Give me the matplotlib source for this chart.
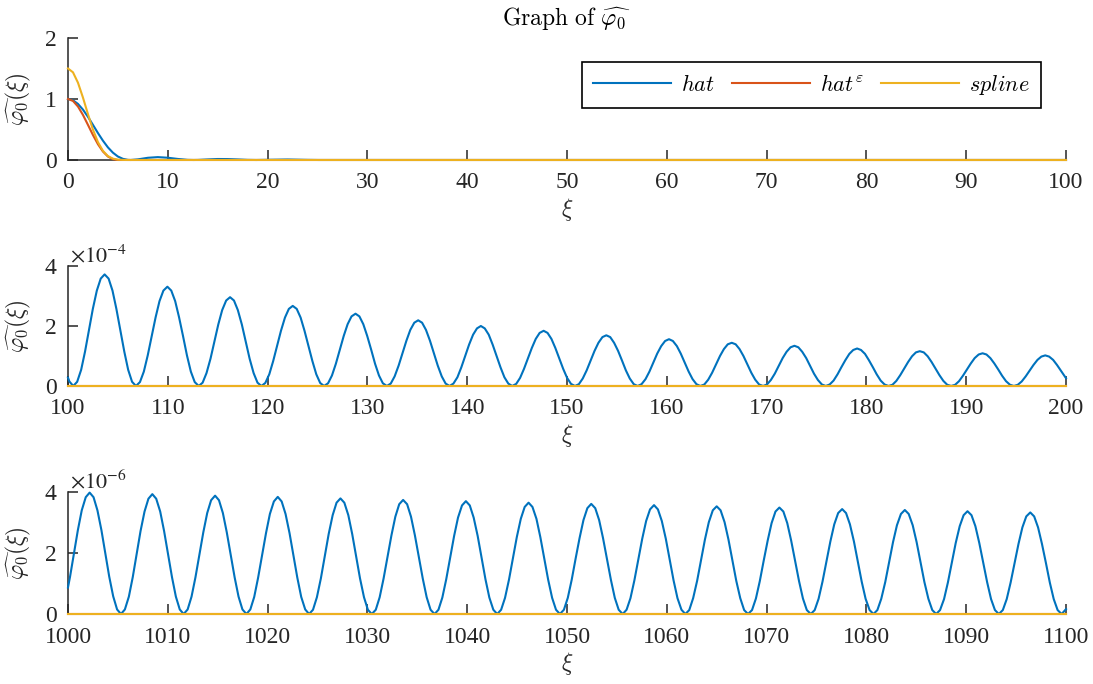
import matplotlib.pyplot as plt

plt.rcParams['font.family'] = 'Liberation Serif'
plt.rcParams['mathtext.fontset'] = 'cm'

# --- panel 1: xi in [0, 100] ---
x_top_hat = [0, 0.5, 1, 1.5, 2, 2.5, 3, 3.5, 4, 4.5, 5, 5.5, 6, 6.28,
             7, 8, 9, 10, 11, 12, 12.57, 13, 14, 15, 16, 17, 18, 18.85,
             20, 22, 24, 25.13, 100]
y_top_hat = [1, 0.979, 0.919, 0.826, 0.708, 0.576, 0.442, 0.317, 0.207, 0.120, 0.057, 0.019, 0.002, 0,
             0.010, 0.036, 0.047, 0.037, 0.017, 0.002, 0, 0.001, 0.009, 0.016, 0.015, 0.009, 0.002, 0,
             0.003, 0.008, 0.002, 0, 0]
x_top_hateps = [0, 0.5, 1, 1.5, 2, 2.5, 3, 3.5, 4, 4.5, 5, 100]
y_top_hateps = [1, 0.968, 0.876, 0.739, 0.576, 0.410, 0.259, 0.139, 0.057, 0.013, 0, 0]
x_top_spline = [0, 0.5, 1, 1.5, 2, 2.5, 3, 3.5, 4, 4.5, 5, 5.5, 6, 100]
y_top_spline = [1.5, 1.437, 1.267, 1.023, 0.752, 0.498, 0.293, 0.150, 0.064, 0.022, 0.005, 0.001, 0, 0]

# --- panel 2: xi in [100, 200], values in units of 1e-4 ---
x_mid_hat = [
    100.00, 100.14,
    100.53, 100.92, 101.32, 101.71, 102.10, 102.49, 102.89, 103.28, 103.67, 104.07, 104.46, 104.85, 105.24, 105.64, 106.03, 106.42,
    106.81, 107.21, 107.60, 107.99, 108.39, 108.78, 109.17, 109.56, 109.96, 110.35, 110.74, 111.13, 111.53, 111.92, 112.31, 112.70,
    113.10, 113.49, 113.88, 114.28, 114.67, 115.06, 115.45, 115.85, 116.24, 116.63, 117.02, 117.42, 117.81, 118.20, 118.60, 118.99,
    119.38, 119.77, 120.17, 120.56, 120.95, 121.34, 121.74, 122.13, 122.52, 122.92, 123.31, 123.70, 124.09, 124.49, 124.88, 125.27,
    125.66, 126.06, 126.45, 126.84, 127.24, 127.63, 128.02, 128.41, 128.81, 129.20, 129.59, 129.98, 130.38, 130.77, 131.16, 131.55,
    131.95, 132.34, 132.73, 133.13, 133.52, 133.91, 134.30, 134.70, 135.09, 135.48, 135.87, 136.27, 136.66, 137.05, 137.45, 137.84,
    138.23, 138.62, 139.02, 139.41, 139.80, 140.19, 140.59, 140.98, 141.37, 141.76, 142.16, 142.55, 142.94, 143.34, 143.73, 144.12,
    144.51, 144.91, 145.30, 145.69, 146.08, 146.48, 146.87, 147.26, 147.66, 148.05, 148.44, 148.83, 149.23, 149.62, 150.01, 150.40,
    150.80, 151.19, 151.58, 151.97, 152.37, 152.76, 153.15, 153.55, 153.94, 154.33, 154.72, 155.12, 155.51, 155.90, 156.29, 156.69,
    157.08, 157.47, 157.87, 158.26, 158.65, 159.04, 159.44, 159.83, 160.22, 160.61, 161.01, 161.40, 161.79, 162.19, 162.58, 162.97,
    163.36, 163.76, 164.15, 164.54, 164.93, 165.33, 165.72, 166.11, 166.51, 166.90, 167.29, 167.68, 168.08, 168.47, 168.86, 169.25,
    169.65, 170.04, 170.43, 170.82, 171.22, 171.61, 172.00, 172.40, 172.79, 173.18, 173.57, 173.97, 174.36, 174.75, 175.14, 175.54,
    175.93, 176.32, 176.71, 177.11, 177.50, 177.89, 178.29, 178.68, 179.07, 179.46, 179.86, 180.25, 180.64, 181.03, 181.43, 181.82,
    182.21, 182.61, 183.00, 183.39, 183.78, 184.18, 184.57, 184.96, 185.35, 185.75, 186.14, 186.53, 186.92, 187.32, 187.71, 188.10,
    188.50, 188.89, 189.28, 189.67, 190.07, 190.46, 190.85, 191.25, 191.64, 192.03, 192.42, 192.82, 193.21, 193.60, 193.99, 194.39,
    194.78, 195.17, 195.56, 195.96, 196.35, 196.74, 197.14, 197.53, 197.92, 198.31, 198.71, 199.10, 199.49, 199.88, 200.00,
]
y_mid_hat = [
    0.28, 0.15,
    0, 0.14, 0.54, 1.15, 1.86, 2.57, 3.18, 3.58, 3.72, 3.58, 3.18, 2.57, 1.86, 1.15, 0.54, 0.14,
    0, 0.13, 0.48, 1.02, 1.66, 2.29, 2.83, 3.18, 3.31, 3.18, 2.83, 2.29, 1.66, 1.02, 0.48, 0.13,
    0, 0.11, 0.43, 0.91, 1.48, 2.05, 2.53, 2.85, 2.96, 2.85, 2.53, 2.05, 1.48, 0.91, 0.43, 0.11,
    0, 0.10, 0.39, 0.83, 1.34, 1.84, 2.28, 2.57, 2.67, 2.57, 2.28, 1.84, 1.34, 0.83, 0.39, 0.10,
    0, 0.09, 0.35, 0.74, 1.21, 1.67, 2.06, 2.32, 2.41, 2.32, 2.06, 1.67, 1.21, 0.74, 0.35, 0.09,
    0, 0.08, 0.32, 0.68, 1.10, 1.51, 1.87, 2.11, 2.19, 2.11, 1.87, 1.51, 1.10, 0.68, 0.32, 0.08,
    0, 0.08, 0.29, 0.62, 1.00, 1.38, 1.71, 1.92, 2.00, 1.92, 1.71, 1.38, 1.00, 0.62, 0.29, 0.08,
    0, 0.07, 0.27, 0.57, 0.92, 1.27, 1.57, 1.77, 1.84, 1.77, 1.57, 1.27, 0.92, 0.57, 0.27, 0.07,
    0, 0.06, 0.25, 0.52, 0.85, 1.17, 1.44, 1.63, 1.69, 1.63, 1.44, 1.17, 0.85, 0.52, 0.25, 0.06,
    0, 0.06, 0.23, 0.48, 0.78, 1.08, 1.33, 1.50, 1.56, 1.50, 1.33, 1.08, 0.78, 0.48, 0.23, 0.06,
    0, 0.05, 0.21, 0.44, 0.72, 1.00, 1.23, 1.39, 1.44, 1.39, 1.23, 1.00, 0.72, 0.44, 0.21, 0.05,
    0, 0.05, 0.20, 0.41, 0.67, 0.93, 1.14, 1.29, 1.34, 1.29, 1.14, 0.93, 0.67, 0.41, 0.20, 0.05,
    0, 0.05, 0.18, 0.39, 0.63, 0.86, 1.07, 1.20, 1.25, 1.20, 1.07, 0.86, 0.63, 0.39, 0.18, 0.05,
    0, 0.04, 0.17, 0.36, 0.58, 0.80, 0.99, 1.12, 1.16, 1.12, 0.99, 0.80, 0.58, 0.36, 0.17, 0.04,
    0, 0.04, 0.16, 0.34, 0.55, 0.75, 0.93, 1.05, 1.09, 1.05, 0.93, 0.75, 0.55, 0.34, 0.16, 0.04,
    0, 0.04, 0.15, 0.32, 0.51, 0.70, 0.87, 0.98, 1.02, 0.98, 0.87, 0.70, 0.51, 0.32, 0.26,
]
x_mid_zero = [100, 200]
y_mid_zero = [0, 0]

# --- panel 3: xi in [1000, 1100], values in units of 1e-6 ---
x_low_hat = [
    1000.00, 1000.21, 1000.60, 1000.99, 1001.38, 1001.78, 1002.17, 1002.56, 1002.95, 1003.35, 1003.74, 1004.13, 1004.53, 1004.92,
    1005.31, 1005.70, 1006.10, 1006.49, 1006.88, 1007.27, 1007.67, 1008.06, 1008.45, 1008.84, 1009.24, 1009.63, 1010.02, 1010.42, 1010.81, 1011.20,
    1011.59, 1011.99, 1012.38, 1012.77, 1013.16, 1013.56, 1013.95, 1014.34, 1014.74, 1015.13, 1015.52, 1015.91, 1016.31, 1016.70, 1017.09, 1017.48,
    1017.88, 1018.27, 1018.66, 1019.05, 1019.45, 1019.84, 1020.23, 1020.63, 1021.02, 1021.41, 1021.80, 1022.20, 1022.59, 1022.98, 1023.37, 1023.77,
    1024.16, 1024.55, 1024.94, 1025.34, 1025.73, 1026.12, 1026.52, 1026.91, 1027.30, 1027.69, 1028.09, 1028.48, 1028.87, 1029.26, 1029.66, 1030.05,
    1030.44, 1030.84, 1031.23, 1031.62, 1032.01, 1032.41, 1032.80, 1033.19, 1033.58, 1033.98, 1034.37, 1034.76, 1035.15, 1035.55, 1035.94, 1036.33,
    1036.73, 1037.12, 1037.51, 1037.90, 1038.30, 1038.69, 1039.08, 1039.48, 1039.87, 1040.26, 1040.65, 1041.05, 1041.44, 1041.83, 1042.22, 1042.62,
    1043.01, 1043.40, 1043.79, 1044.19, 1044.58, 1044.97, 1045.37, 1045.76, 1046.15, 1046.54, 1046.94, 1047.33, 1047.72, 1048.11, 1048.51, 1048.90,
    1049.29, 1049.69, 1050.08, 1050.47, 1050.86, 1051.26, 1051.65, 1052.04, 1052.43, 1052.83, 1053.22, 1053.61, 1054.00, 1054.40, 1054.79, 1055.18,
    1055.58, 1055.97, 1056.36, 1056.75, 1057.15, 1057.54, 1057.93, 1058.32, 1058.72, 1059.11, 1059.50, 1059.90, 1060.29, 1060.68, 1061.07, 1061.47,
    1061.86, 1062.25, 1062.64, 1063.04, 1063.43, 1063.82, 1064.21, 1064.61, 1065.00, 1065.39, 1065.79, 1066.18, 1066.57, 1066.96, 1067.36, 1067.75,
    1068.14, 1068.54, 1068.93, 1069.32, 1069.71, 1070.11, 1070.50, 1070.89, 1071.28, 1071.68, 1072.07, 1072.46, 1072.85, 1073.25, 1073.64, 1074.03,
    1074.43, 1074.82, 1075.21, 1075.60, 1076.00, 1076.39, 1076.78, 1077.17, 1077.57, 1077.96, 1078.35, 1078.75, 1079.14, 1079.53, 1079.92, 1080.32,
    1080.71, 1081.10, 1081.49, 1081.89, 1082.28, 1082.67, 1083.06, 1083.46, 1083.85, 1084.24, 1084.64, 1085.03, 1085.42, 1085.81, 1086.21, 1086.60,
    1086.99, 1087.38, 1087.78, 1088.17, 1088.56, 1088.95, 1089.35, 1089.74, 1090.13, 1090.53, 1090.92, 1091.31, 1091.70, 1092.10, 1092.49, 1092.88,
    1093.27, 1093.67, 1094.06, 1094.45, 1094.85, 1095.24, 1095.63, 1096.02, 1096.42, 1096.81, 1097.20, 1097.59, 1097.99, 1098.38, 1098.77, 1099.16,
    1099.56, 1100.00,
]
y_low_hat = [
    0.87, 1.23, 1.99, 2.75, 3.40, 3.83, 3.98, 3.83, 3.40, 2.75, 1.99, 1.23, 0.58, 0.15,
    0, 0.15, 0.57, 1.21, 1.97, 2.72, 3.36, 3.78, 3.93, 3.78, 3.36, 2.72, 1.97, 1.21, 0.57, 0.15,
    0, 0.15, 0.57, 1.20, 1.94, 2.68, 3.31, 3.73, 3.88, 3.73, 3.31, 2.68, 1.94, 1.20, 0.57, 0.15,
    0, 0.15, 0.56, 1.19, 1.92, 2.65, 3.28, 3.69, 3.84, 3.69, 3.28, 2.65, 1.92, 1.19, 0.56, 0.15,
    0, 0.14, 0.55, 1.17, 1.90, 2.62, 3.24, 3.65, 3.79, 3.65, 3.24, 2.62, 1.90, 1.17, 0.55, 0.14,
    0, 0.14, 0.55, 1.16, 1.87, 2.58, 3.19, 3.60, 3.74, 3.60, 3.19, 2.58, 1.87, 1.16, 0.55, 0.14,
    0, 0.14, 0.54, 1.14, 1.85, 2.56, 3.16, 3.56, 3.70, 3.56, 3.16, 2.56, 1.85, 1.14, 0.54, 0.14,
    0, 0.14, 0.53, 1.13, 1.83, 2.52, 3.12, 3.51, 3.65, 3.51, 3.12, 2.52, 1.83, 1.13, 0.53, 0.14,
    0, 0.14, 0.53, 1.12, 1.81, 2.49, 3.08, 3.47, 3.61, 3.47, 3.08, 2.49, 1.81, 1.12, 0.53, 0.14,
    0, 0.14, 0.52, 1.10, 1.79, 2.47, 3.05, 3.43, 3.57, 3.43, 3.05, 2.47, 1.79, 1.10, 0.52, 0.14,
    0, 0.13, 0.52, 1.09, 1.77, 2.44, 3.01, 3.40, 3.53, 3.40, 3.01, 2.44, 1.77, 1.09, 0.52, 0.13,
    0, 0.13, 0.51, 1.08, 1.75, 2.41, 2.98, 3.36, 3.49, 3.36, 2.98, 2.41, 1.75, 1.08, 0.51, 0.13,
    0, 0.13, 0.50, 1.06, 1.72, 2.38, 2.94, 3.31, 3.44, 3.31, 2.94, 2.38, 1.72, 1.06, 0.50, 0.13,
    0, 0.13, 0.50, 1.05, 1.71, 2.36, 2.91, 3.28, 3.41, 3.28, 2.91, 2.36, 1.71, 1.05, 0.50, 0.13,
    0, 0.13, 0.49, 1.04, 1.69, 2.33, 2.88, 3.24, 3.37, 3.24, 2.88, 2.33, 1.69, 1.04, 0.49, 0.13,
    0, 0.13, 0.49, 1.03, 1.67, 2.30, 2.84, 3.20, 3.33, 3.20, 2.84, 2.30, 1.67, 1.03, 0.49, 0.13,
    0, 0.16,
]
x_low_zero = [1000, 1100]
y_low_zero = [0, 0]

labels = [r'$hat$', r'$hat^{\varepsilon}$', r'$spline$']
colors = ['#0072BD', '#D95319', '#EDB120']
dark = '#262626'

fig = plt.figure(figsize=(10.93, 6.84), dpi=100)
left, width = 0.0622, 0.9131
ax1 = fig.add_axes([left, 0.7661, width, 0.1784])
ax2 = fig.add_axes([left, 0.4357, width, 0.1754])
ax3 = fig.add_axes([left, 0.1023, width, 0.1784])


def style(ax, x0, x1, ymax, yticks):
    ax.set_xlim(x0, x1)
    ax.set_ylim(0, ymax)
    ax.set_xticks(range(x0, x1 + 1, 10))
    ax.set_yticks(yticks)
    for s in ['top', 'right']:
        ax.spines[s].set_visible(False)
    for s in ['left', 'bottom']:
        ax.spines[s].set_color(dark)
        ax.spines[s].set_linewidth(1.1)
    ax.tick_params(direction='in', length=7, width=1.1, color=dark,
                   labelcolor=dark, labelsize=17)
    ax.tick_params(axis='x', pad=9)
    ax.tick_params(axis='y', pad=8)
    ax.set_xlabel(r'$\xi$', fontsize=17, color=dark, labelpad=2)
    ax.set_ylabel(r'$\widehat{\varphi_0}(\xi)$', fontsize=17, color=dark)
    ax.yaxis.set_label_coords(-0.035, 0.5)


ax1.plot(x_top_hat, y_top_hat, color=colors[0], lw=1.5, label=labels[0], clip_on=False, zorder=3)
ax1.plot(x_top_hateps, y_top_hateps, color=colors[1], lw=1.5, label=labels[1], clip_on=False, zorder=3)
ax1.plot(x_top_spline, y_top_spline, color=colors[2], lw=1.5, label=labels[2], clip_on=False, zorder=3)
style(ax1, 0, 100, 2, [0, 1, 2])
ax1.set_title(r'$\mathrm{Graph\ of}\ \widehat{\varphi_0}$', fontsize=17, color='black', pad=9)
leg = ax1.legend(ncol=3, loc='upper right', bbox_to_anchor=(0.975, 0.803), fontsize=16,
                 frameon=True, fancybox=False, edgecolor='black', framealpha=1,
                 handlelength=3.5, handletextpad=0.45, columnspacing=0.8,
                 borderpad=0.5, borderaxespad=0)
leg.get_frame().set_linewidth(1.2)

ax2.plot(x_mid_hat, y_mid_hat, color=colors[0], lw=1.5, clip_on=False, zorder=3)
ax2.plot(x_mid_zero, y_mid_zero, color=colors[1], lw=1.5, clip_on=False, zorder=3)
ax2.plot(x_mid_zero, y_mid_zero, color=colors[2], lw=1.5, clip_on=False, zorder=3)
style(ax2, 100, 200, 4, [0, 2, 4])
ax2.text(0.002, 1.03, r'$\times10^{-4}$', transform=ax2.transAxes, fontsize=16,
         color=dark, ha='left', va='baseline', math_fontfamily='stix')

ax3.plot(x_low_hat, y_low_hat, color=colors[0], lw=1.5, clip_on=False, zorder=3)
ax3.plot(x_low_zero, y_low_zero, color=colors[1], lw=1.5, clip_on=False, zorder=3)
ax3.plot(x_low_zero, y_low_zero, color=colors[2], lw=1.5, clip_on=False, zorder=3)
style(ax3, 1000, 1100, 4, [0, 2, 4])
ax3.text(0.002, 1.03, r'$\times10^{-6}$', transform=ax3.transAxes, fontsize=16,
         color=dark, ha='left', va='baseline', math_fontfamily='stix')

fig.savefig('out.png', dpi=100)
